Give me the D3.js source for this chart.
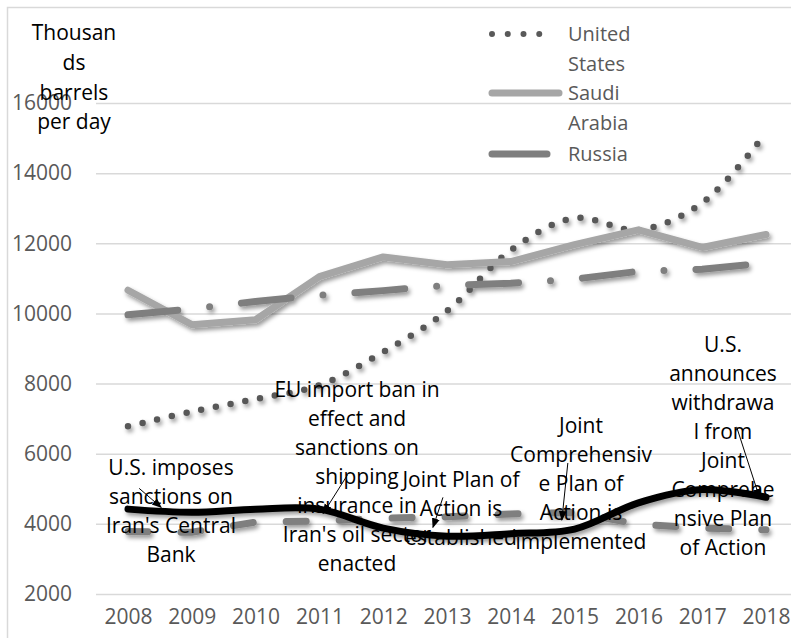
<!DOCTYPE html>
<html>
<head>
<meta charset="utf-8">
<script src="https://cdn.jsdelivr.net/npm/d3@7"></script>
<style>
  html, body { margin: 0; padding: 0; background: #fff; }
  svg { display: block; }
</style>
</head>
<body>
<svg id="chart" width="791" height="638"></svg>
<script>
// ---------- data ----------
const years = [2008, 2009, 2010, 2011, 2012, 2013, 2014, 2015, 2016, 2017, 2018];
const unitedStates = [6780, 7200, 7560, 7950, 8900, 10070, 11800, 12720, 12380, 13150, 15150];
const saudiArabia  = [10660, 9680, 9820, 11050, 11610, 11390, 11480, 11960, 12380, 11880, 12250];
const russia       = [9960, 10130, 10340, 10520, 10650, 10800, 10860, 10980, 11200, 11260, 11440];
const china        = [3780, 3760, 4050, 4080, 4160, 4200, 4280, 4330, 3990, 3880, 3830];
const iran         = [4420, 4330, 4420, 4420, 3880, 3650, 3720, 3850, 4600, 4980, 4760];
const yTicks = [2000, 4000, 6000, 8000, 10000, 12000, 14000, 16000];
const yTitle = ["Thousan", "ds", "barrels", "per day"];
const legendItems = [
  { key: "us", lines: ["United", "States"] },
  { key: "sa", lines: ["Saudi", "Arabia"] },
  { key: "ru", lines: ["Russia"] }
];
// annotations: text lines, arrow tip on the Iran line (year, value)
const annotations = [
  { lines: ["U.S. imposes", "sanctions on", "Iran's Central", "Bank"], tipYear: 2008.52, tipValue: 4470 },
  { lines: ["EU import ban in", "effect and", "sanctions on", "shipping", "insurance in", "Iran's oil sector", "enacted"], tipYear: 2011.06, tipValue: 4300 },
  { lines: ["Joint Plan of", "Action is", "established"], tipYear: 2012.78, tipValue: 3900 },
  { lines: ["Joint", "Comprehensiv", "e Plan of", "Action is", "implemented"], tipYear: 2014.8, tipValue: 4110 },
  { lines: ["U.S.", "announces", "withdrawa", "l from", "Joint", "Comprehe", "nsive Plan", "of Action"], tipYear: 2017.9, tipValue: 4740 }
];

// ---------- layout ----------
const annLayout = [
  { cx: 171, top: 468, tailDx: -22, tailDy: -19 },
  { cx: 357, top: 390, tailDx: 24, tailDy: -38 },
  { cx: 461, top: 480, tailDx: 10, tailDy: -30 },
  { cx: 581, top: 426, tailDx: 6, tailDy: -57 },
  { cx: 723, top: 345, tailDx: -23, tailDy: -71 }
];
const FONT = "'Open Sans', 'Noto Sans', sans-serif";
const svg = d3.select("#chart");

const x = d3.scalePoint().domain(years).range([128, 766]);
const xLin = d3.scaleLinear().domain([2008, 2018]).range([128, 766]);
const y = d3.scaleLinear().domain([2000, 16000]).range([594, 103]);

// defs: shadow + arrow
const defs = svg.append("defs");
const f = defs.append("filter").attr("id", "shadow").attr("x", "-10%").attr("y", "-20%").attr("width", "130%").attr("height", "160%");
f.append("feDropShadow").attr("dx", 2).attr("dy", 3).attr("stdDeviation", 2.2).attr("flood-color", "#000").attr("flood-opacity", 0.4);
defs.append("marker").attr("id", "arrow").attr("viewBox", "0 0 10 10").attr("refX", 9).attr("refY", 5)
  .attr("markerWidth", 10).attr("markerHeight", 10).attr("markerUnits", "userSpaceOnUse").attr("orient", "auto")
  .append("path").attr("d", "M0,1 L10,5 L0,9 Z").attr("fill", "#000");

// outer border
svg.append("rect").attr("x", 7.5).attr("y", 7.5).attr("width", 820).attr("height", 700)
  .attr("fill", "none").attr("stroke", "#d9d9d9").attr("stroke-width", 1.5);

// gridlines + y labels
const yAxis = d3.axisLeft(y).tickValues(yTicks).tickSize(-(800 - 96)).tickPadding(24).tickFormat(d3.format("d"));
const gy = svg.append("g").attr("transform", "translate(96,0)").call(yAxis);
gy.select(".domain").remove();
gy.selectAll(".tick line").attr("stroke", "#d9d9d9").attr("stroke-width", 1.5);
gy.selectAll(".tick text").attr("fill", "#595959").style("font-family", FONT).style("font-size", "21px");

// x axis labels
const xAxis = d3.axisBottom(x).tickSize(0).tickPadding(0);
const gx = svg.append("g").attr("transform", "translate(0,609)").call(xAxis);
gx.select(".domain").remove();
gx.selectAll(".tick text").attr("fill", "#595959").style("font-family", FONT).style("font-size", "21px");

// lines
const lineSmooth = d3.line().x((d, i) => x(years[i])).y(d => y(d)).curve(d3.curveCatmullRom.alpha(0.5));
const lineStraight = d3.line().x((d, i) => x(years[i])).y(d => y(d));
const gLines = svg.append("g").attr("filter", "url(#shadow)");

gLines.append("path").datum(unitedStates).attr("d", lineSmooth)
  .attr("fill", "none").attr("stroke", "#595959").attr("stroke-width", 6.5)
  .attr("stroke-linecap", "round").attr("stroke-dasharray", "0 15");
gLines.append("path").datum(saudiArabia).attr("d", lineStraight)
  .attr("fill", "none").attr("stroke", "#a6a6a6").attr("stroke-width", 7)
  .attr("stroke-linejoin", "round").attr("stroke-linecap", "round");
gLines.append("path").datum(russia).attr("d", lineStraight)
  .attr("fill", "none").attr("stroke", "#7f7f7f").attr("stroke-width", 7)
  .attr("stroke-linecap", "round").attr("stroke-dasharray", "50 32 0 32");
gLines.append("path").datum(china).attr("d", lineStraight)
  .attr("fill", "none").attr("stroke", "#7f7f7f").attr("stroke-width", 7)
  .attr("stroke-linecap", "round").attr("stroke-dasharray", "20 33");
gLines.append("path").datum(iran).attr("d", lineSmooth)
  .attr("fill", "none").attr("stroke", "#000").attr("stroke-width", 7)
  .attr("stroke-linejoin", "round").attr("stroke-linecap", "round");

// y title
svg.append("g").selectAll("text").data(yTitle).join("text")
  .attr("x", 74).attr("y", (d, i) => 33 + i * 29.7).attr("dy", "0.35em")
  .attr("text-anchor", "middle").attr("fill", "#000")
  .style("font-family", FONT).style("font-size", "21px").text(d => d);

// legend
const lg = svg.append("g");
const legendRowY = [34, 93, 154];
legendItems.forEach((it, k) => {
  const ly = legendRowY[k];
  if (it.key === "us") {
    lg.append("line").attr("x1", 492).attr("x2", 555).attr("y1", ly).attr("y2", ly)
      .attr("stroke", "#595959").attr("stroke-width", 6).attr("stroke-linecap", "round").attr("stroke-dasharray", "0 15.75");
  } else if (it.key === "sa") {
    lg.append("line").attr("x1", 492).attr("x2", 559).attr("y1", ly).attr("y2", ly)
      .attr("stroke", "#a6a6a6").attr("stroke-width", 7).attr("stroke-linecap", "round");
  } else {
    lg.append("line").attr("x1", 492).attr("x2", 547).attr("y1", ly).attr("y2", ly)
      .attr("stroke", "#7f7f7f").attr("stroke-width", 7).attr("stroke-linecap", "round");
  }
  it.lines.forEach((t, j) => {
    lg.append("text").attr("x", 568).attr("y", ly + j * 29.5).attr("dy", "0.35em")
      .attr("fill", "#595959").style("font-family", FONT).style("font-size", "20px").text(t);
  });
});

// annotations
const ga = svg.append("g");
annotations.forEach((a, k) => {
  const L = annLayout[k];
  a.lines.forEach((t, j) => {
    ga.append("text").attr("x", L.cx).attr("y", L.top + j * 29).attr("dy", "0.35em")
      .attr("text-anchor", "middle").attr("fill", "#000")
      .style("font-family", FONT).style("font-size", "21px").text(t);
  });
  const tx = xLin(a.tipYear), ty = y(a.tipValue);
  ga.append("line").attr("x1", tx + L.tailDx).attr("y1", ty + L.tailDy).attr("x2", tx).attr("y2", ty)
    .attr("stroke", "#000").attr("stroke-width", 1).attr("marker-end", "url(#arrow)");
});
</script>
</body>
</html>
